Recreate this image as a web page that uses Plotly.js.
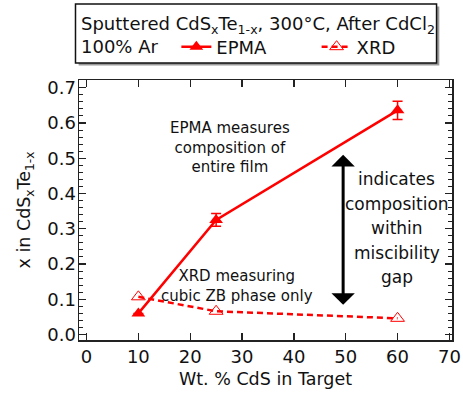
<!DOCTYPE html>
<html>
<head>
<meta charset="utf-8">
<script src="https://cdn.plot.ly/plotly-3.0.1.min.js"></script>
<style>html,body{margin:0;padding:0;background:#fff;}#chart{width:463px;height:394px;}</style>
</head>
<body>
<div id="chart"></div>
<script>
// Data
const targetWtCdS = [10, 25, 60];
const epmaX = [0.06, 0.325, 0.636];
const epmaErr = [0.0, 0.018, 0.026];
const xrdX = [0.107, 0.066, 0.046];
const xTickVals = [0, 10, 20, 30, 40, 50, 60, 70];
const yTickVals = [0.0, 0.1, 0.2, 0.3, 0.4, 0.5, 0.6, 0.7];
const gapNoteLines = ['indicates', 'composition', 'within', 'miscibility', 'gap'];

const FONT = 'DejaVu Sans, Lucida Grande, sans-serif';
const RED = '#ff0000';
const INK = '#111';

const traces = [
  {
    x: targetWtCdS, y: epmaX, name: 'EPMA', type: 'scatter', mode: 'lines+markers',
    line: {color: RED, width: 2.5},
    marker: {symbol: 'triangle-up', size: 12, color: RED},
    error_y: {type: 'data', array: epmaErr, visible: true, color: RED, thickness: 1.5, width: 5},
    legend: 'legend'
  },
  {
    x: targetWtCdS, y: xrdX, name: 'XRD', type: 'scatter', mode: 'lines+markers',
    line: {color: RED, width: 2.5, dash: '6px,4px'},
    marker: {symbol: 'triangle-up-open', size: 12, color: RED, line: {color: RED, width: 1}},
    legend: 'legend2'
  }
];

const gapNote = gapNoteLines.map((t, i) => ({
  xref: 'x', yref: 'y', x: 59.8, y: 0.440 - i * 0.0695, showarrow: false,
  xanchor: 'center', yanchor: 'middle', text: t, font: {family: FONT, size: 17, color: INK}
}));

const legendBase = {
  orientation: 'h', xanchor: 'left', y: 1.127, yanchor: 'middle',
  bgcolor: 'rgba(0,0,0,0)', borderwidth: 0, itemwidth: 30,
  font: {family: FONT, size: 18, color: INK}
};

const layout = {
  width: 463, height: 394,
  margin: {l: 78.5, r: 10.5, t: 80, b: 53.5},
  paper_bgcolor: '#fff', plot_bgcolor: '#fff',
  font: {family: FONT, size: 18, color: INK},
  showlegend: true,
  legend: Object.assign({}, legendBase, {x: 0.261}),
  legend2: Object.assign({}, legendBase, {x: 0.637}),
  xaxis: {
    range: [-1.45, 70.5], tickvals: xTickVals, ticktext: xTickVals.map(String),
    ticks: 'inside', ticklen: 7, tickwidth: 1.3, tickcolor: '#222',
    showline: true, linecolor: '#222', linewidth: 1.5, mirror: 'allticks',
    showgrid: false, zeroline: false,
    tickfont: {family: FONT, size: 18, color: INK},
    title: {text: 'Wt. % CdS in Target', font: {family: FONT, size: 17.5, color: INK}, standoff: 6}
  },
  yaxis: {
    range: [-0.0155, 0.722], tickvals: yTickVals, ticktext: yTickVals.map(v => v.toFixed(1)),
    ticks: 'inside', ticklen: 7, tickwidth: 1.3, tickcolor: '#222',
    minor: {dtick: 0.02, ticks: 'inside', ticklen: 4, tickwidth: 1, tickcolor: '#222'},
    showline: true, linecolor: '#222', linewidth: 1.5, mirror: 'allticks',
    showgrid: false, zeroline: false, ticklabelstandoff: -2,
    tickfont: {family: FONT, size: 18, color: INK},
    title: {text: 'x in CdS<sub>x</sub>Te<sub>1-x</sub>', font: {family: FONT, size: 17.5, color: INK}, standoff: 12}
  },
  shapes: [
    {type: 'rect', xref: 'paper', yref: 'paper', x0: -0.001, x1: 0.966, y0: 1.056, y1: 1.283,
     line: {width: 0}, fillcolor: '#9a9a9a', layer: 'below'},
    {type: 'rect', xref: 'paper', yref: 'paper', x0: -0.0094, x1: 0.9586, y0: 1.065, y1: 1.292,
     line: {color: INK, width: 1.5}, fillcolor: '#fff', layer: 'below'}
  ],
  annotations: [
    {xref: 'paper', yref: 'paper', x: 0.0, y: 1.211, xanchor: 'left', yanchor: 'middle', showarrow: false,
     text: 'Sputtered CdS<sub>x</sub>Te<sub>1-x</sub>, 300°C, After CdCl<sub>2</sub>',
     font: {family: FONT, size: 18, color: INK}},
    {xref: 'paper', yref: 'paper', x: 0.0, y: 1.127, xanchor: 'left', yanchor: 'middle', showarrow: false,
     text: '100% Ar', font: {family: FONT, size: 18, color: INK}},
    {xref: 'x', yref: 'y', x: 27.7, y: 0.53, showarrow: false, align: 'center',
     text: 'EPMA measures<br>composition of<br>entire film', font: {family: FONT, size: 15, color: INK}},
    {xref: 'x', yref: 'y', x: 29, y: 0.139, showarrow: false, align: 'center',
     text: 'XRD measuring<br>cubic ZB phase only', font: {family: FONT, size: 15, color: INK}},
    ...gapNote,
    {xref: 'x', yref: 'y', x: 49.5, y: 0.51, axref: 'x', ayref: 'y', ax: 49.5, ay: 0.08,
     text: '', showarrow: true, arrowside: 'end+start', arrowhead: 1, startarrowhead: 1,
     arrowsize: 1.3, startarrowsize: 1.3, arrowwidth: 3, arrowcolor: '#000', standoff: 0, startstandoff: 0}
  ]
};

Plotly.newPlot('chart', traces, layout, {displayModeBar: false, staticPlot: true});
</script>
</body>
</html>
